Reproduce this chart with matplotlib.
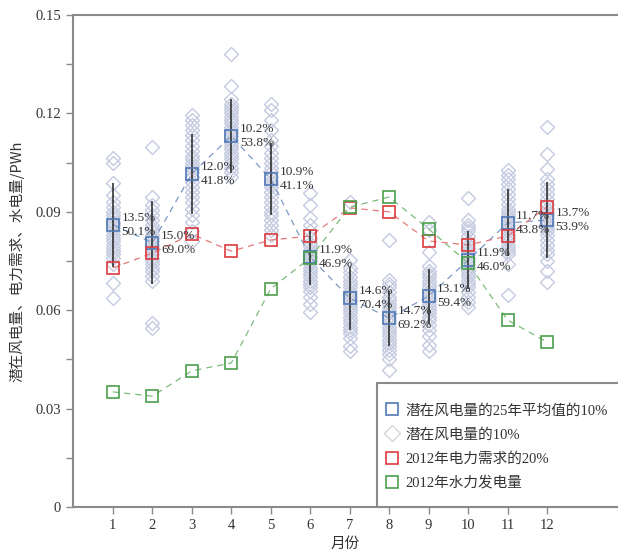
import numpy as np
import matplotlib
matplotlib.use('Agg')
import matplotlib.pyplot as plt
from matplotlib.patches import Rectangle
from matplotlib.ticker import MultipleLocator

plt.rcParams['font.family'] = ['Liberation Serif', 'Noto Sans CJK SC']

months = np.arange(1, 13)

# 25-year mean of potential wind power (10%) and its spread
wind_mean = [0.0860, 0.0806, 0.1016, 0.1131, 0.1000, 0.0762,
             0.0637, 0.0576, 0.0643, 0.0752, 0.0866, 0.0875]
wind_std = [0.0128, 0.0127, 0.0122, 0.0114, 0.0110, 0.0085,
            0.0096, 0.0084, 0.0084, 0.0088, 0.0102, 0.0116]
label_top = ['13.5%', '15.0%', '12.0%', '10.2%', '10.9%', '11.9%',
             '14.6%', '14.7%', '13.1%', '11.9%', '11.7%', '13.7%']
label_bot = ['50.1%', '69.0%', '41.8%', '53.8%', '41.1%', '46.9%',
             '70.4%', '69.2%', '59.4%', '46.0%', '43.8%', '53.9%']

# 20% of 2012 electricity demand
demand = [0.0729, 0.0774, 0.0832, 0.0780, 0.0814, 0.0826,
          0.0912, 0.0900, 0.0811, 0.0799, 0.0826, 0.0915]

# 2012 hydro power
hydro = [0.0351, 0.0338, 0.0415, 0.0439, 0.0665, 0.0760,
         0.0914, 0.0945, 0.0848, 0.0744, 0.0570, 0.0503]

# yearly values of potential wind power (10%), one list per month
wind_years = [
    [0.1064, 0.1050, 0.0988, 0.0950, 0.0930, 0.0915, 0.0900, 0.0890, 0.0880, 0.0870, 0.0865, 0.0860, 0.0850,
     0.0840, 0.0830, 0.0820, 0.0810, 0.0800, 0.0790, 0.0780, 0.0770, 0.0760, 0.0740, 0.0683, 0.0637],
    [0.1098, 0.0946, 0.0920, 0.0905, 0.0890, 0.0875, 0.0860, 0.0850, 0.0840, 0.0830, 0.0820, 0.0810, 0.0800,
     0.0790, 0.0780, 0.0770, 0.0760, 0.0750, 0.0740, 0.0730, 0.0720, 0.0705, 0.0690, 0.0561, 0.0545],
    [0.1195, 0.1180, 0.1165, 0.1150, 0.1135, 0.1120, 0.1100, 0.1085, 0.1070, 0.1060, 0.1050, 0.1040, 0.1030,
     0.1020, 0.1005, 0.0990, 0.0975, 0.0960, 0.0945, 0.0930, 0.0910, 0.0890, 0.0870, 0.0840, 0.0810],
    [0.1381, 0.1284, 0.1245, 0.1230, 0.1220, 0.1210, 0.1200, 0.1190, 0.1180, 0.1170, 0.1160, 0.1150, 0.1140,
     0.1130, 0.1120, 0.1110, 0.1100, 0.1090, 0.1080, 0.1070, 0.1060, 0.1050, 0.1035, 0.1020, 0.1005],
    [0.1229, 0.1210, 0.1180, 0.1150, 0.1120, 0.1100, 0.1080, 0.1065, 0.1050, 0.1035, 0.1020, 0.1005, 0.0995,
     0.0985, 0.0975, 0.0960, 0.0945, 0.0930, 0.0915, 0.0900, 0.0890, 0.0875, 0.0860, 0.0845, 0.0830],
    [0.0958, 0.0921, 0.0882, 0.0860, 0.0840, 0.0820, 0.0805, 0.0795, 0.0785, 0.0775, 0.0765, 0.0760, 0.0750,
     0.0740, 0.0730, 0.0720, 0.0710, 0.0700, 0.0690, 0.0680, 0.0671, 0.0660, 0.0640, 0.0620, 0.0595],
    [0.0930, 0.0754, 0.0730, 0.0715, 0.0700, 0.0690, 0.0680, 0.0670, 0.0660, 0.0650, 0.0640, 0.0630, 0.0620,
     0.0610, 0.0600, 0.0590, 0.0580, 0.0570, 0.0560, 0.0550, 0.0540, 0.0530, 0.0515, 0.0490, 0.0475],
    [0.0814, 0.0692, 0.0680, 0.0670, 0.0655, 0.0640, 0.0630, 0.0620, 0.0610, 0.0600, 0.0590, 0.0580, 0.0570,
     0.0560, 0.0550, 0.0540, 0.0530, 0.0520, 0.0510, 0.0500, 0.0490, 0.0480, 0.0465, 0.0450, 0.0418],
    [0.0869, 0.0845, 0.0778, 0.0735, 0.0720, 0.0710, 0.0700, 0.0690, 0.0680, 0.0670, 0.0660, 0.0650, 0.0640,
     0.0630, 0.0620, 0.0610, 0.0600, 0.0590, 0.0580, 0.0570, 0.0555, 0.0540, 0.0520, 0.0495, 0.0475],
    [0.0943, 0.0876, 0.0860, 0.0850, 0.0840, 0.0825, 0.0810, 0.0800, 0.0790, 0.0780, 0.0770, 0.0760, 0.0750,
     0.0740, 0.0730, 0.0720, 0.0710, 0.0700, 0.0690, 0.0680, 0.0670, 0.0655, 0.0640, 0.0625, 0.0610],
    [0.1028, 0.1013, 0.1000, 0.0985, 0.0970, 0.0955, 0.0940, 0.0925, 0.0910, 0.0900, 0.0890, 0.0880, 0.0870,
     0.0860, 0.0850, 0.0840, 0.0830, 0.0820, 0.0810, 0.0800, 0.0790, 0.0780, 0.0770, 0.0740, 0.0646],
    [0.1159, 0.1075, 0.1030, 0.1000, 0.0985, 0.0970, 0.0955, 0.0940, 0.0925, 0.0910, 0.0900, 0.0890, 0.0880,
     0.0870, 0.0860, 0.0850, 0.0840, 0.0830, 0.0815, 0.0800, 0.0785, 0.0770, 0.0750, 0.0720, 0.0685],
]

legend_labels = ['潜在风电量的25年平均值的10%', '潜在风电量的10%',
                 '2012年电力需求的20%', '2012年水力发电量']

BLUE = '#4f78b5'
RED = '#dc3b3e'
GREEN = '#4c9f4c'
DIAMOND = '#c4cbe0'
SPINE = '#8a8a8a'
TEXT = '#333333'

fig = plt.figure(figsize=(6.18, 5.55), dpi=100)
ax = fig.add_axes([73/618, 48/555, 545/618, 492/555])

# yearly diamonds
for m, vals in zip(months, wind_years):
    ax.plot(np.full(len(vals), m), vals, linestyle='none', marker='D', ms=7.5,
            mfc='none', mec=DIAMOND, mew=1.0, zorder=1)

# spread of the 25-year values
ax.errorbar(months, wind_mean, yerr=wind_std, fmt='none', ecolor='#222222',
            elinewidth=1.1, capsize=0, zorder=3)

dash = (0, (5, 4))
ax.plot(months, wind_mean, linestyle=dash, color='#7d98c6', lw=0.9, zorder=2)
ax.plot(months, demand, linestyle=dash, color='#e77a7a', lw=0.9, zorder=2)
ax.plot(months, hydro, linestyle=dash, color='#7dbb7d', lw=0.9, zorder=2)

h_wind, = ax.plot(months, wind_mean, linestyle='none', marker='s', ms=8.5,
                  mfc='none', mec=BLUE, mew=1.2, zorder=4)
h_dem, = ax.plot(months, demand, linestyle='none', marker='s', ms=8.5,
                 mfc='none', mec=RED, mew=1.2, zorder=4)
h_hyd, = ax.plot(months, hydro, linestyle='none', marker='s', ms=8.5,
                 mfc='none', mec=GREEN, mew=1.2, zorder=4)
h_dia, = ax.plot([], [], linestyle='none', marker='D', ms=8, mfc='none',
                 mec='#d6d6d6', mew=1.0)

for m, y, t1, t2 in zip(months, wind_mean, label_top, label_bot):
    ax.text(m + 0.22, y, t1 + '\n' + t2, fontsize=9.5, color=TEXT,
            ha='left', va='center', linespacing=1.25, zorder=5)

ax.set_xlim(-0.01, 13.8)
ax.set_ylim(0, 0.15)
ax.set_xticks(months)
ax.yaxis.set_major_locator(MultipleLocator(0.03))
ax.yaxis.set_minor_locator(MultipleLocator(0.015))
ax.set_yticks([0, 0.03, 0.06, 0.09, 0.12, 0.15])
ax.set_yticklabels(['0', '0.03', '0.06', '0.09', '0.12', '0.15'])
ax.tick_params(axis='both', which='both', direction='out', color=SPINE,
               labelcolor=TEXT, labelsize=10.5, width=1.0)
ax.tick_params(axis='both', which='major', length=5)
ax.tick_params(axis='y', which='minor', length=5)

for side in ['left', 'bottom', 'top']:
    ax.spines[side].set_color(SPINE)
    ax.spines[side].set_linewidth(1.5)
ax.spines['right'].set_visible(False)

ax.set_xlabel('月份', fontsize=10.5, color=TEXT, family=['Noto Sans CJK SC'], labelpad=3.5)
ax.set_ylabel('潜在风电量、电力需求、水电量/PWh', fontsize=10.5, color=TEXT,
              family=['Noto Sans CJK SC'], labelpad=8)

# legend box drawn by hand so the padding matches the original
x0 = (377 - 73) / 545
box = Rectangle((x0, 0), 1.2, (507 - 383) / 492, transform=ax.transAxes,
                facecolor='white', edgecolor=SPINE, lw=1.5, clip_on=False, zorder=6)
ax.add_patch(box)
leg = ax.legend([h_wind, h_dia, h_dem, h_hyd], legend_labels,
                loc='upper left', bbox_to_anchor=((386 - 73) / 545, (507 - 404) / 492),
                borderaxespad=0, frameon=False,
                prop={'family': ['Liberation Serif', 'Noto Sans CJK SC'], 'size': 10.5},
                handlelength=0.8, handletextpad=0.5, labelspacing=0.72,
                borderpad=0)
leg.set_zorder(7)
for t in leg.get_texts():
    t.set_color(TEXT)

fig.savefig('out.png', dpi=100)
